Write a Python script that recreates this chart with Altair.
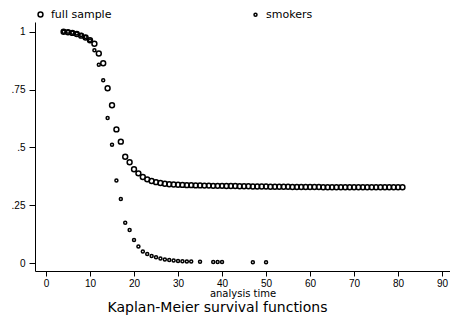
import altair as alt
import pandas as pd

# Full sample Kaplan-Meier estimates (analysis time, survival)
full_time = [4, 5, 6, 7, 8, 9, 10, 11, 12, 13, 14, 15, 16, 17, 18, 19, 20, 21, 22, 23,
             24, 25, 26, 27, 28, 29, 30, 31, 32, 33, 34, 35, 36, 37, 38, 39, 40, 41, 42, 43,
             44, 45, 46, 47, 48, 49, 50, 51, 52, 53, 54, 55, 56, 57, 58, 59, 60, 61, 62, 63,
             64, 65, 66, 67, 68, 69, 70, 71, 72, 73, 74, 75, 76, 77, 78, 79, 80, 81]
full_surv = [1.000, 0.998, 0.995, 0.990, 0.983, 0.975, 0.963, 0.948, 0.906, 0.864,
             0.756, 0.682, 0.578, 0.525, 0.460, 0.436, 0.406, 0.388, 0.372, 0.362,
             0.355, 0.350, 0.346, 0.343, 0.341, 0.340, 0.339, 0.338, 0.337, 0.337,
             0.336, 0.336, 0.335, 0.335, 0.334, 0.334, 0.334, 0.333, 0.333, 0.333,
             0.332, 0.332, 0.332, 0.331, 0.331, 0.331, 0.331, 0.330, 0.330, 0.330,
             0.330, 0.330, 0.329, 0.329, 0.329, 0.329, 0.329, 0.329, 0.329, 0.328,
             0.328, 0.328, 0.328, 0.328, 0.328, 0.328, 0.328, 0.328, 0.328, 0.328,
             0.328, 0.328, 0.328, 0.328, 0.328, 0.328, 0.328, 0.328]

# Smokers Kaplan-Meier estimates
smk_time = [4, 5, 6, 7, 8, 9, 10, 11, 12, 13, 14, 15, 16, 17, 18, 19, 20, 21, 22, 23,
            24, 25, 26, 27, 28, 29, 30, 31, 32, 33, 35, 38, 39, 40, 47, 50]
smk_surv = [1.000, 1.000, 0.996, 0.992, 0.986, 0.977, 0.962, 0.920, 0.857, 0.790,
            0.627, 0.512, 0.357, 0.277, 0.175, 0.143, 0.100, 0.072, 0.050, 0.040,
            0.031, 0.025, 0.020, 0.016, 0.013, 0.011, 0.009, 0.008, 0.007, 0.007,
            0.006, 0.005, 0.005, 0.005, 0.004, 0.004]

series_names = ["full sample", "smokers"]
x_ticks = [0, 10, 20, 30, 40, 50, 60, 70, 80, 90]
y_ticks = [0, 0.25, 0.5, 0.75, 1]

df = pd.concat([
    pd.DataFrame({"time": full_time, "surv": full_surv, "series": series_names[0]}),
    pd.DataFrame({"time": smk_time, "surv": smk_surv, "series": series_names[1]}),
])

FONT = "Liberation Sans"
WIDE = "DejaVu Sans"

chart = alt.Chart(df).mark_point(filled=False, strokeWidth=1.5, opacity=1).encode(
    x=alt.X("time:Q",
            scale=alt.Scale(domain=[-2.5, 91.8], nice=False, zero=False),
            axis=alt.Axis(values=x_ticks, title="analysis time", tickSize=5,
                          labelPadding=2, titlePadding=0, grid=False)),
    y=alt.Y("surv:Q",
            scale=alt.Scale(domain=[-0.034, 1.042], nice=False, zero=False),
            axis=alt.Axis(values=y_ticks, title=None, tickSize=6, labelPadding=4,
                          grid=False,
                          labelExpr="datum.value == 0 ? '0' : datum.value == 1 ? '1' : substring(toString(datum.value), 1)")),
    size=alt.Size("series:N", scale=alt.Scale(domain=series_names, range=[24, 9]),
                  legend=alt.Legend(title=None, orient="none", legendX=0, legendY=-13,
                                    direction="horizontal", columns=2, columnPadding=138,
                                    labelFont=WIDE, labelFontSize=11, labelColor="black",
                                    labelOffset=5, symbolStrokeWidth=1.5,
                                    symbolStrokeColor="black", symbolFillColor="white")),
    color=alt.value("black"),
).properties(
    width=415,
    height=249,
    padding={"left": 27, "top": 14, "right": 0, "bottom": 48},
    autosize=alt.AutoSizeParams(type="none"),
    title=alt.TitleParams("Kaplan-Meier survival functions", orient="bottom",
                          anchor="middle", dx=-25, offset=3, font=WIDE,
                          fontSize=14, fontWeight="normal", color="black"),
).configure_view(stroke=None).configure_axis(
    domainColor="black", tickColor="black", labelColor="black", titleColor="black",
    labelFont=FONT, titleFont=WIDE, labelFontSize=10, titleFontSize=10,
    titleFontWeight="normal", domainWidth=1, tickWidth=1,
)

chart.save("out.html", embed_options={"renderer": "svg", "actions": False})
